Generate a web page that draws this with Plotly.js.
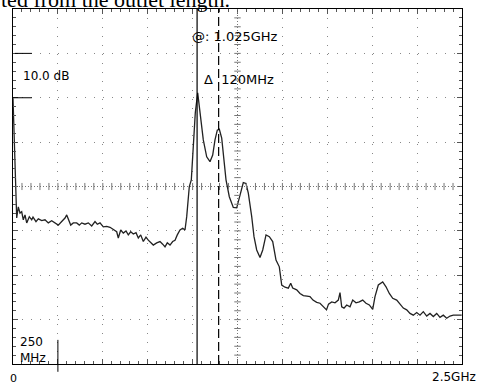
<!DOCTYPE html>
<html>
<head>
<meta charset="utf-8">
<script src="https://cdn.plot.ly/plotly-3.0.1.min.js"></script>
<style>
html,body{margin:0;padding:0;background:#fff;}
#chart{width:478px;height:385px;}
</style>
</head>
<body>
<div id="chart"></div>
<script>
// Frequency in MHz, level in dB (top of screen = 0 dB, 10 dB/div)
const freqMHz = [0, 8.4, 20.6, 29.5, 39, 48.4, 57.4, 66.8, 76.3, 90.8, 104.1, 111.4, 128, 140.9, 159.8, 178.2, 196.5, 215.5, 233.9, 252.2, 271.2, 289.6, 299, 307.9, 321.3, 335.7, 354.7, 369.2, 382.5, 400.9, 419.3, 438.2, 456.6, 469.4, 484.4, 502.8, 521.7, 540.1, 558.5, 577.4, 586.3, 599.7, 614.2, 629.2, 642, 655.4, 669.9, 684.9, 697.7, 711.1, 725.5, 740.5, 753.4, 766.7, 781.2, 800.1, 818.5, 833.5, 846.3, 859.1, 874.2, 889.2, 902, 914.8, 929.9, 944.9, 957.7, 967.2, 976.1, 981.6, 992.8, 1003.9, 1015, 1028.4, 1041.2, 1059.6, 1078.5, 1096.9, 1111.9, 1124.7, 1137.5, 1148.7, 1162.1, 1171, 1186, 1204.4, 1226.6, 1245.6, 1264, 1282.3, 1297.3, 1310.2, 1329.1, 1341.9, 1356.9, 1375.3, 1390.4, 1408.8, 1427.2, 1446, 1464.4, 1482.8, 1496.2, 1514.5, 1532.9, 1546.3, 1557.4, 1579.7, 1598, 1616.4, 1637, 1653.7, 1670.4, 1691, 1709.4, 1727.8, 1745.6, 1756.7, 1774.6, 1792.9, 1811.3, 1820.7, 1830.2, 1843, 1858, 1876.4, 1891.5, 1909.8, 1928.2, 1947.1, 1965.5, 1983.9, 2002.8, 2015.6, 2034, 2058.5, 2076.9, 2095.3, 2114.2, 2136.5, 2154.8, 2173.2, 2192.1, 2210.5, 2228.9, 2247.8, 2266.2, 2284.6, 2303.5, 2321.9, 2340.3, 2359.2, 2377.5, 2395.9, 2414.8, 2433.2, 2451.6, 2479.4, 2498.3];
const levelDB = [-20.1, -31.8, -47.1, -44.6, -46.0, -45.7, -47.5, -46.4, -48.2, -46.8, -47.5, -46.9, -47.9, -47.3, -47.7, -47.5, -48.2, -47.7, -48.2, -48.7, -47.9, -47.1, -46.4, -47.3, -48.7, -48.2, -48.2, -48.7, -48.2, -48.5, -48.2, -48.9, -47.9, -48.5, -48.2, -49.1, -49.0, -49.2, -49.8, -50.2, -51.6, -49.8, -50.5, -50.0, -50.9, -50.2, -50.7, -50.4, -51.6, -50.9, -52.4, -51.4, -52.1, -52.7, -53.2, -52.7, -52.4, -53.0, -53.6, -52.7, -53.2, -52.4, -52.1, -50.9, -49.8, -49.4, -49.8, -46.8, -43.0, -40.0, -38.5, -31.0, -23.4, -18.9, -23.4, -29.5, -33.3, -34.4, -32.9, -29.5, -27.3, -27.1, -29.1, -33.3, -38.5, -42.3, -44.7, -44.8, -41.9, -39.1, -39.3, -41.5, -46.8, -51.3, -54.3, -56.0, -54.3, -50.9, -51.3, -52.4, -56.6, -58.1, -62.2, -62.7, -62.9, -61.8, -62.9, -63.3, -64.1, -64.6, -64.7, -64.8, -65.6, -66.1, -66.3, -67.1, -67.8, -66.5, -66.0, -66.2, -65.6, -63.9, -67.1, -67.4, -66.7, -67.1, -65.6, -66.2, -66.0, -65.6, -66.3, -66.7, -67.7, -64.8, -62.2, -61.5, -62.6, -64.1, -65.2, -65.6, -66.5, -67.4, -67.8, -68.6, -69.0, -68.4, -69.0, -68.2, -69.2, -68.6, -69.3, -68.6, -69.5, -69.0, -69.7, -69.2, -69.0, -69.0, -69.0];

const markerMHz = 1025;
const deltaMHz = 120;
const spanMHz = 2500;
const refTopDB = 0;
const dbPerDiv = 10;
const divsX = 10, divsY = 8;

const markerLabel = "@: 1.025GHz";
const deltaLabel = "\u0394  120MHz";
const scaleLabel = "10.0 dB";
const spanDivLabel = "250<br>MHz";
const startLabel = "0";
const stopLabel = "2.5GHz";
const captionText = "ted from the outlet length.";

const bottomDB = refTopDB - dbPerDiv * divsY;
const midX = spanMHz / 2, midY = (refTopDB + bottomDB) / 2;
const minorX = spanMHz / divsX / 5, minorY = dbPerDiv / 5;

const shapes = [];
// center cross lines
shapes.push({type:'line', xref:'x', yref:'paper', x0:midX, x1:midX, y0:0, y1:1,
  line:{color:'#777', width:1, dash:'1px,2px'}});
shapes.push({type:'line', xref:'paper', yref:'y', x0:0, x1:1, y0:midY, y1:midY,
  line:{color:'#777', width:1, dash:'1px,2px'}});
// small cross ticks along the center lines
for (let f = minorX; f < spanMHz; f += minorX) {
  shapes.push({type:'line', xref:'x', yref:'y', x0:f, x1:f, y0:midY-0.8, y1:midY+0.8,
    line:{color:'#777', width:1}});
}
for (let d = bottomDB + minorY; d < refTopDB; d += minorY) {
  shapes.push({type:'line', xref:'x', yref:'y', x0:midX-18, x1:midX+18, y0:d, y1:d,
    line:{color:'#777', width:1}});
}
// markers
shapes.push({type:'line', xref:'x', yref:'paper', x0:markerMHz, x1:markerMHz, y0:0, y1:1,
  line:{color:'#000', width:1.2}});
shapes.push({type:'line', xref:'x', yref:'paper', x0:markerMHz+deltaMHz, x1:markerMHz+deltaMHz, y0:0, y1:1,
  line:{color:'#000', width:1.2, dash:'9px,4px'}});
// reference brackets at the left
shapes.push({type:'line', xref:'paper', yref:'y', x0:0.004, x1:0.042, y0:-10, y1:-10,
  line:{color:'#000', width:1}});
shapes.push({type:'line', xref:'paper', yref:'y', x0:0, x1:0.042, y0:-20, y1:-20,
  line:{color:'#000', width:1}});
// span/div bar
shapes.push({type:'line', xref:'x', yref:'paper', x0:250, x1:250, y0:-0.022, y1:0.068,
  line:{color:'#000', width:1}});

const annFont = {family:'DejaVu Sans, sans-serif', size:12, color:'#000'};
const annotations = [
  {text:captionText, xref:'paper', yref:'paper', x:-0.031, y:0.985, xanchor:'left', yanchor:'bottom',
   showarrow:false, font:{family:'Liberation Serif, serif', size:22, color:'#000'}},
  {text:scaleLabel, xref:'paper', yref:'paper', x:0.018, y:0.811, xanchor:'left', yanchor:'middle',
   showarrow:false, font:annFont},
  {text:markerLabel, xref:'paper', yref:'paper', x:0.395, y:0.922, xanchor:'left', yanchor:'middle',
   showarrow:false, font:{family:'DejaVu Sans, sans-serif', size:13, color:'#000'}},
  {text:deltaLabel, xref:'paper', yref:'paper', x:0.42, y:0.8, xanchor:'left', yanchor:'middle',
   showarrow:false, font:{family:'DejaVu Sans, sans-serif', size:13, color:'#000'}},
  {text:spanDivLabel, xref:'paper', yref:'paper', x:0.012, y:0.04, xanchor:'left', yanchor:'middle',
   showarrow:false, align:'left', font:{family:'DejaVu Sans, sans-serif', size:12, color:'#000'}},
  {text:startLabel, xref:'paper', yref:'paper', x:0.0, y:-0.042, xanchor:'center', yanchor:'middle',
   showarrow:false, font:{family:'DejaVu Sans, sans-serif', size:11, color:'#000'}},
  {text:stopLabel, xref:'paper', yref:'paper', x:1.036, y:-0.037, xanchor:'right', yanchor:'middle',
   showarrow:false, font:{family:'DejaVu Sans, sans-serif', size:12, color:'#000'}}
];

const trace = {
  x: freqMHz, y: levelDB, type:'scatter', mode:'lines',
  line:{color:'#222', width:1.3}, hoverinfo:'skip'
};

const axisCommon = {
  showline:true, linecolor:'#000', linewidth:1.2, mirror:'ticks',
  ticks:'inside', ticklen:5, tickcolor:'#555', showticklabels:false,
  showgrid:true, gridcolor:'#888', griddash:'1px,8px', gridwidth:1,
  zeroline:false, fixedrange:true
};

const layout = {
  width:478, height:385,
  margin:{l:13, r:16, t:9, b:21, pad:0},
  paper_bgcolor:'#fff', plot_bgcolor:'#fff',
  showlegend:false,
  xaxis: Object.assign({}, axisCommon, {range:[0, spanMHz], dtick:spanMHz/divsX, tick0:0,
    minor:{dtick:minorX, ticks:'inside', ticklen:3, tickcolor:'#555', showgrid:false}}),
  yaxis: Object.assign({}, axisCommon, {range:[bottomDB, refTopDB], dtick:dbPerDiv, tick0:0,
    minor:{dtick:minorY, ticks:'inside', ticklen:3, tickcolor:'#555', showgrid:false}}),
  shapes: shapes,
  annotations: annotations
};

Plotly.newPlot('chart', [trace], layout, {staticPlot:true, displayModeBar:false});
</script>
</body>
</html>
